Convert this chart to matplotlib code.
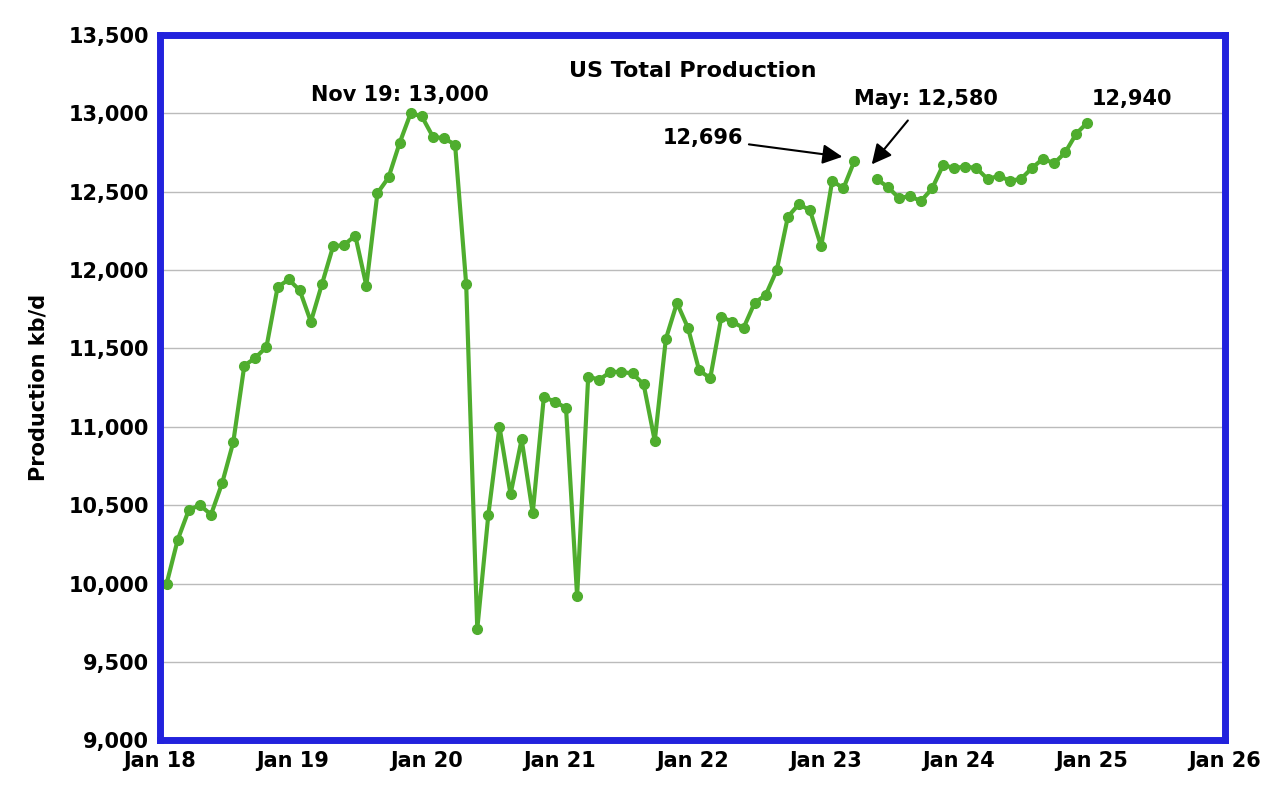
import matplotlib
matplotlib.use("Agg")
import matplotlib.pyplot as plt
import numpy as np

vals1 = [10000,10280,10470,10500,10440,10640,10900,11390,11440,11510,11890,11940,
         11870,11670,11910,12150,12160,12220,11900,12490,12590,12810,13000,12980,
         12850,12840,12800,11910,9710,10440,11000,10570,10920,10450,11190,11160,
         11120,9920,11320,11300,11350,11350,11340,11270,10910,11560,11790,11630,
         11360,11310,11700,11670,11630,11790,11840,12000,12340,12420,12380,12150,
         12570,12520,12696]
vals2 = [12580,12530,12460,12470,12440,12520,12670,12650,12660,12650,12580,12600,
         12570,12580,12650,12710,12680,12750,12870,12940]
tick_labels = ["Jan 18","Jan 19","Jan 20","Jan 21","Jan 22","Jan 23","Jan 24","Jan 25","Jan 26"]

x1 = 2018.05 + np.arange(len(vals1))/12
x2 = 2018.05 + (np.arange(len(vals2)) + 64)/12

fig = plt.figure(figsize=(12.8, 8.1), dpi=100)
ax = fig.add_axes([0.125, 0.086, 0.832, 0.871])
green = "#4fad2e"
for x, v in ((x1, vals1), (x2, vals2)):
    ax.plot(x, v, color=green, lw=3, marker="o", ms=7)
ax.set_xlim(2018, 2026)
ax.set_ylim(9000, 13500)
ax.set_xticks(np.arange(2018, 2027))
ax.set_xticklabels(tick_labels)
ax.set_yticks(np.arange(9000, 13501, 500))
ax.set_yticklabels([f"{v:,}" for v in range(9000, 13501, 500)])
ax.yaxis.grid(True, color="#bbbbbb", lw=1)
ax.set_axisbelow(True)
ax.tick_params(length=0, labelsize=15, pad=8)
for t in ax.get_xticklabels() + ax.get_yticklabels():
    t.set_fontweight("bold")
for s in ax.spines.values():
    s.set_color("#2222dd"); s.set_linewidth(5)
ax.set_ylabel("Production kb/d", fontsize=15, fontweight="bold", labelpad=14)
ax.text(0.5, 0.94, "US Total Production", transform=ax.transAxes, ha="center",
        fontsize=16, fontweight="bold")
ax.text(2019.8, 13080, "Nov 19: 13,000", ha="center", fontsize=15, fontweight="bold")
ax.annotate("12,696", xy=(2018+62/12-0.02, 12720), xytext=(2022.08, 12840),
            ha="center", va="center", fontsize=15, fontweight="bold",
            arrowprops=dict(arrowstyle="-|>,head_length=0.8,head_width=0.4", color="black", lw=1.5))
ax.annotate("May: 12,580", xy=(2018+64/12+0.0, 12660), xytext=(2023.75, 13090),
            ha="center", va="center", fontsize=15, fontweight="bold",
            arrowprops=dict(arrowstyle="-|>,head_length=0.8,head_width=0.4", color="black", lw=1.5, shrinkA=8))
ax.text(2025.3, 13090, "12,940", ha="center", va="center", fontsize=15, fontweight="bold")
fig.savefig("out.png")
